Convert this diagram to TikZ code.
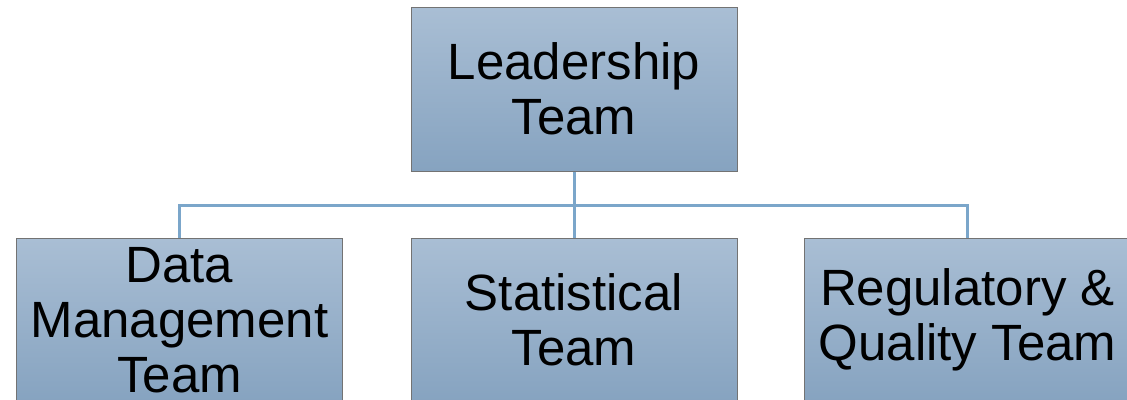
\documentclass[tikz,border=0pt]{standalone}
\usepackage{fontspec}
\setmainfont{Liberation Sans}
\definecolor{boxtop}{HTML}{A9BED4}
\definecolor{boxbot}{HTML}{86A3C0}
\definecolor{wire}{HTML}{7BA6CA}

\begin{document}
\begin{tikzpicture}[
  x=1pt, y=-1pt,
  box/.style ={draw=black!55,line width=1pt,rectangle,align=center,inner sep=0pt,
               minimum width=326pt,minimum height=164pt,
               top color=boxtop,bottom color=boxbot,
               font=\fontsize{51}{55}\selectfont},
  ln/.style  ={draw=wire,line width=3pt},
]
\useasboundingbox (0,0) rectangle (1127,399);

% ----------------------------------------------------------- top of the chart
\node[box] (lead) at (574, 89) {Leadership\\Team};

% ----------------------------------------------------------- the three teams
\node[box] (dm)  at (179.5, 320) {Data\\Management\\Team};
\node[box] (st)  at (574, 320)   {Statistical\\Team};
\node[box] (rq)  at (967.5, 320) {Regulatory \&\\Quality Team};

% ----------------------------------------------------------- tree lines
\coordinate (bus) at (574, 205);
\draw[ln] (lead.south) -- (bus);
\draw[ln] (bus) -| (dm.north);
\draw[ln] (bus) -- (st.north);
\draw[ln] (bus) -| (rq.north);

\end{tikzpicture}
\end{document}
